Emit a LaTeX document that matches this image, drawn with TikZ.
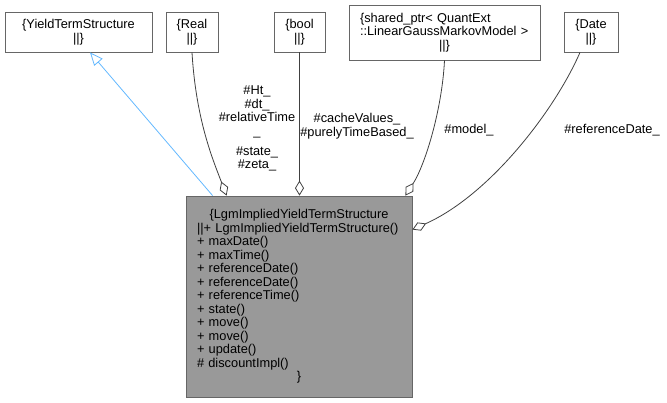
\documentclass[tikz,border=0pt]{standalone}
\usepackage{fontspec}
\setmainfont{Liberation Sans}
\usetikzlibrary{arrows.meta}
\definecolor{boxgray}{HTML}{666666}
\definecolor{edgegray}{HTML}{404040}
\definecolor{inhblue}{HTML}{63B8FF}
\definecolor{mainfill}{HTML}{999999}
\begin{document}
\begin{tikzpicture}[x=1pt,y=-1pt,
  every node/.style={font=\fontsize{12.8}{13.5}\selectfont, inner sep=0pt},
  cls/.style={draw=boxgray, fill=white, line width=0.8pt, align=center},
  mainbox/.style={draw=boxgray, fill=mainfill, line width=0.8pt, align=left,
    inner xsep=11pt, text width=204pt, minimum width=226pt, minimum height=201pt},
  lbl/.style={align=center},
  agg/.style={draw=edgegray, line width=0.8pt, -{Diamond[fill=white,length=15pt,width=9pt]}},
  inh/.style={draw=inhblue, line width=0.8pt, -{Triangle[fill=white,length=13pt,width=11pt]}}]
\useasboundingbox (0,0) rectangle (667,403);

\node[cls, minimum width=147pt, minimum height=40pt] (yts) at (78.5,32) {\{YieldTermStructure\\||\}};
\node[cls, minimum width=52pt, minimum height=40pt] (real) at (192,32) {\{Real\\||\}};
\node[cls, minimum width=51pt, minimum height=40pt] (bool) at (299.5,32) {\{bool\\||\}};
\node[cls, align=left, text width=169pt, inner xsep=11pt, minimum width=191pt, minimum height=55pt] (sp) at (444.5,32.5)
  {\{shared\_ptr< QuantExt\\::LinearGaussMarkovModel >\\\leavevmode\hfill||\}\hfill\null};
\node[cls, minimum width=54pt, minimum height=40pt] (date) at (591,32) {\{Date\\||\}};

\node[mainbox] (main) at (299,296.5) {%
\leavevmode\hfill\{LgmImpliedYieldTermStructure\hfill\null\\
||+ LgmImpliedYieldTermStructure()\\
+ maxDate()\\
+ maxTime()\\
+ referenceDate()\\
+ referenceDate()\\
+ referenceTime()\\
+ state()\\
+ move()\\
+ move()\\
+ update()\\
\# discountImpl()\\
\leavevmode\hfill\}\hfill\null};

\draw[inh] ([xshift=27pt]main.north west) -- ([xshift=11.5pt]yts.south);
\draw[agg] (real.south) .. controls (196,120) and (213,160) .. ([xshift=41pt]main.north west);
\draw[agg] (bool.south) -- (bool.south |- main.north);
\draw[agg] (sp.south) .. controls (442,110) and (425,165) .. ([xshift=-7pt]main.north east);
\draw[agg] ([xshift=-11pt]date.south) .. controls (555,110) and (490,195) .. ([yshift=-34pt]main.north east);

\node[lbl] (lr1) at (257,112) {\#Ht\_\\\#dt\_\\\#relativeTime\\\_};
\node[lbl] (lr2) at (257,159) {\#state\_\\\#zeta\_};
\node[lbl] (lb) at (357,126) {\#cacheValues\_\\\#purelyTimeBased\_};
\node[lbl] (lm) at (469,130) {\#model\_};
\node[lbl] (ld) at (612,130) {\#referenceDate\_};
\end{tikzpicture}
\end{document}
